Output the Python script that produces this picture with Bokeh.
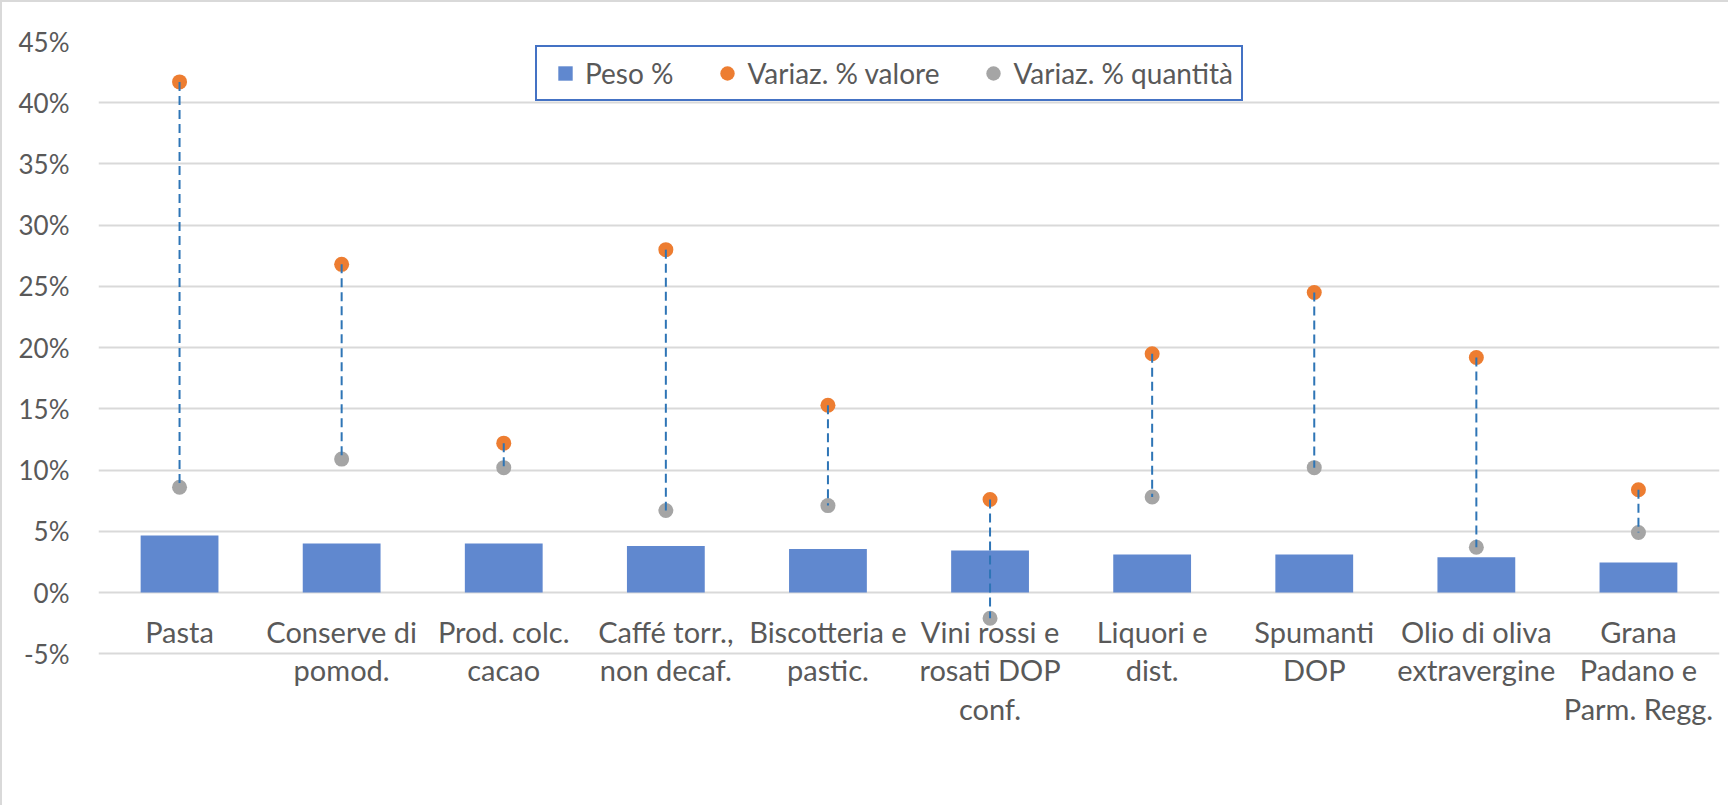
from bokeh.plotting import figure
from bokeh.models import (FactorRange, Range1d, FixedTicker, PrintfTickFormatter,
                          Legend, LegendItem)
from bokeh.embed import file_html
from bokeh.resources import INLINE

categories = ["Pasta", "Conserve di\npomod.", "Prod. colc.\ncacao", "Caffé torr.,\nnon decaf.",
              "Biscotteria e\npastic.", "Vini rossi e\nrosati DOP\nconf.", "Liquori e\ndist.",
              "Spumanti\nDOP", "Olio di oliva\nextravergine", "Grana\nPadano e\nParm. Regg."]
peso = [4.65, 4.0, 4.0, 3.8, 3.55, 3.43, 3.1, 3.1, 2.88, 2.45]
var_valore = [41.7, 26.8, 12.2, 28.0, 15.3, 7.6, 19.5, 24.5, 19.2, 8.4]
var_quantita = [8.6, 10.9, 10.2, 6.7, 7.1, -2.1, 7.8, 10.2, 3.7, 4.9]
y_ticks = [-5, 0, 5, 10, 15, 20, 25, 30, 35, 40, 45]
series_labels = ["Peso %", "Variaz. % valore", "Variaz. % quantità"]

BLUE = "#6088CF"
ORANGE = "#ED7D31"
GRAY = "#A5A5A5"
TEXT = "#595959"
FONT = "Lato"

# the frame reaches below -5% to leave room for the wrapped category labels
p = figure(x_range=FactorRange(factors=categories, range_padding=0),
           y_range=Range1d(-12, y_ticks[-1]),
           width=1728, height=805, output_backend="svg", toolbar_location=None,
           min_border_left=96, min_border_right=11, min_border_top=39, min_border_bottom=68,
           background_fill_color="white", border_fill_color="white", outline_line_color=None)
p.styles = {"border-left": "2px solid #D9D9D9", "border-top": "2px solid #D9D9D9"}

p.xgrid.grid_line_color = None
p.ygrid.ticker = FixedTicker(ticks=y_ticks)
p.ygrid.grid_line_color = "#D9D9D9"
p.ygrid.grid_line_width = 2

p.yaxis.ticker = FixedTicker(ticks=y_ticks)
p.yaxis.formatter = PrintfTickFormatter(format="%d%%")
p.yaxis.axis_line_color = None
p.yaxis.major_tick_line_color = None
p.yaxis.major_tick_out = 0
p.yaxis.minor_tick_line_color = None
p.yaxis.major_label_standoff = 29
p.yaxis.major_label_text_font = FONT
p.yaxis.major_label_text_font_size = "26px"
p.yaxis.major_label_text_color = TEXT

# category labels (multi-line) drawn by the axis placed at 0
xa = p.xaxis[0]
xa.fixed_location = 0
xa.axis_line_color = None
xa.major_tick_line_color = None
xa.major_tick_out = 0
xa.minor_tick_line_color = None
xa.major_label_standoff = 21
xa.major_label_text_font = FONT
xa.major_label_text_font_size = "29px"
xa.major_label_text_color = TEXT
xa.major_label_text_line_height = 1.1

# legend swatch for the bars: square markers hidden inside the bars
sq = p.scatter(x=categories, y=[v / 2 for v in peso], marker="square", size=14,
               fill_color=BLUE, line_color=None)
bars = p.vbar(x=categories, top=peso, bottom=0, width=0.48, fill_color=BLUE, line_color=None)
r_val = p.scatter(x=categories, y=var_valore, size=15, fill_color=ORANGE, line_color=None)
r_qty = p.scatter(x=categories, y=var_quantita, size=15, fill_color=GRAY, line_color=None)
p.segment(x0=categories, y0=var_valore, x1=categories, y1=var_quantita,
          line_color="#2E75B6", line_width=2, line_dash="9 5", level="overlay")

legend = Legend(items=[LegendItem(label=series_labels[0], renderers=[sq], index=0),
                       LegendItem(label=series_labels[1], renderers=[r_val], index=0),
                       LegendItem(label=series_labels[2], renderers=[r_qty], index=0)],
                orientation="horizontal", location=(437, 638), margin=0,
                glyph_width=40, glyph_height=36, label_standoff=0, spacing=34, padding=8,
                border_line_color="#4472C4", border_line_width=2, border_line_alpha=1,
                background_fill_color="white", background_fill_alpha=1,
                label_text_font=FONT, label_text_font_size="28px", label_text_color=TEXT)
p.add_layout(legend)

open("out.html", "w").write(file_html(p, INLINE))
